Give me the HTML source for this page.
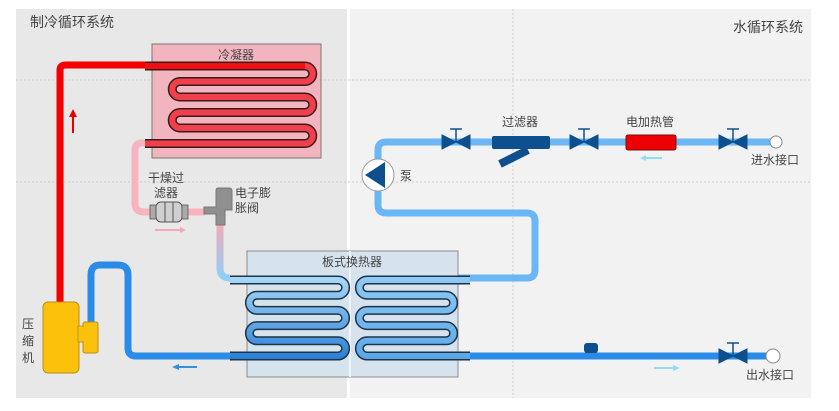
<!DOCTYPE html>
<html><head><meta charset="utf-8"><style>
body{margin:0;background:#fff;}
svg{display:block;}
text{font-family:"Liberation Sans","Noto Sans CJK SC",sans-serif;fill:#444;}
</style></head><body>
<svg width="839" height="411" viewBox="0 0 839 411" xmlns="http://www.w3.org/2000/svg">
<defs>
<linearGradient id="g1" x1="0" y1="0" x2="0" y2="1"><stop offset="0" stop-color="#f7a8b8"/><stop offset="1" stop-color="#8fd0f5"/></linearGradient>
<linearGradient id="gl" gradientUnits="userSpaceOnUse" x1="0" y1="278" x2="0" y2="358"><stop offset="0" stop-color="#a8d8f8"/><stop offset="1" stop-color="#2b80d8"/></linearGradient>
<linearGradient id="gr" gradientUnits="userSpaceOnUse" x1="0" y1="278" x2="0" y2="358"><stop offset="0" stop-color="#8ecaf5"/><stop offset="1" stop-color="#5aa8ea"/></linearGradient>
</defs>
<rect x="16" y="9" width="331" height="389" fill="#e8e8e8"/>
<rect x="350" y="9" width="461" height="389" fill="#f2f2f2"/>
<g stroke="#ccc" stroke-dasharray="2,2" stroke-width="1">
<line x1="16" y1="80" x2="811" y2="80"/><line x1="16" y1="182" x2="811" y2="182"/><line x1="513" y1="9" x2="513" y2="398"/>
</g>
<text x="30" y="27" font-size="14">制冷循环系统</text>
<text x="803" y="32" font-size="14" text-anchor="end">水循环系统</text>

<!-- condenser -->
<rect x="152" y="44" width="169" height="114" fill="#f2b5bf" stroke="#777" stroke-width="1"/>
<text x="236" y="59" font-size="12" text-anchor="middle" fill="#666">冷凝器</text>
<path d="M60,305 V70 Q60,65 66,65 H145" fill="none" stroke="#f40000" stroke-width="7"/>
<path d="M145,66 H305 a7.7,7.7 0 0 1 0,15.5 H180 a7.7,7.7 0 0 0 0,15.5 H305 a7.7,7.7 0 0 1 0,15.5 H180 a7.7,7.7 0 0 0 0,15.5 H305 a7.7,7.7 0 0 1 0,15.5 H145" fill="none" stroke="#3a1a1a" stroke-width="9"/>
<path d="M145,66 H305 a7.7,7.7 0 0 1 0,15.5 H180 a7.7,7.7 0 0 0 0,15.5 H305 a7.7,7.7 0 0 1 0,15.5 H180 a7.7,7.7 0 0 0 0,15.5 H305 a7.7,7.7 0 0 1 0,15.5 H145" fill="none" stroke="#f0404c" stroke-width="6"/>
<path d="M145,66 H305" stroke="#ee1010" stroke-width="6"/>
<path d="M73,133 V115" stroke="#e00" stroke-width="2"/><path d="M69,117 L73,109 L77,117 Z" fill="#e00"/>

<!-- pink line -->
<path d="M145,143 H142 Q135,143 135,150 V203 Q135,212 144,212 H205" fill="none" stroke="#f7b3c0" stroke-width="7"/>
<path d="M220,222 V268 Q220,278 230,278" fill="none" stroke="url(#g1)" stroke-width="7"/>
<!-- filter -->
<rect x="150" y="205" width="6" height="14" fill="#aaa" stroke="#555" stroke-width="0.8"/>
<rect x="156" y="202" width="26" height="20" rx="5" fill="#cfcfcf" stroke="#555" stroke-width="1"/>
<line x1="165" y1="202" x2="165" y2="222" stroke="#555"/><line x1="173" y1="202" x2="173" y2="222" stroke="#555"/>
<rect x="182" y="205" width="6" height="14" fill="#aaa" stroke="#555" stroke-width="0.8"/>
<text x="166" y="182" font-size="12" text-anchor="middle">干燥过</text>
<text x="166" y="197" font-size="12" text-anchor="middle">滤器</text>
<path d="M155,230 H181" stroke="#f7a8b8" stroke-width="2"/><path d="M180,227 L186,230 L180,233Z" fill="#f7a8b8"/>
<!-- exp valve -->
<path d="M218,188 H229 Q232,188 232,191 V210 H225 V225 H216 V214 H204 V207 H216 V191 Q216,188 218,188 Z" fill="#8f8f8f" stroke="#777"/>
<text x="235" y="197" font-size="12">电子膨</text>
<text x="235" y="212" font-size="12">胀阀</text>

<!-- compressor -->
<path d="M230,356 H136 Q128,356 128,348 V275 Q128,265 118,265 H100 Q91,265 91,275 V322" fill="none" stroke="#2b8ce8" stroke-width="7"/>
<rect x="43" y="302" width="36" height="71" rx="5" fill="#fbc10b" stroke="#b8901a"/>
<rect x="78" y="326" width="6" height="16" fill="#fbc10b" stroke="#b8901a" stroke-width="0.8"/>
<rect x="83" y="322" width="15" height="31" rx="2" fill="#fbc10b" stroke="#b8901a"/>
<rect x="78.5" y="327" width="6" height="14" fill="#fbc10b"/>
<text x="28" y="328" font-size="12" text-anchor="middle">压</text>
<text x="28" y="345" font-size="12" text-anchor="middle">缩</text>
<text x="28" y="362" font-size="12" text-anchor="middle">机</text>
<path d="M178,367 H197" stroke="#3a8ee0" stroke-width="2"/><path d="M179,364 L172,367 L179,370Z" fill="#3a8ee0"/>

<!-- water pipes -->
<path d="M458,278 H527 Q535,278 535,270 V221 Q535,213 527,213 H386 Q378,213 378,205 V150 Q378,142 386,142 H772" fill="none" stroke="#6bb6f5" stroke-width="7"/>
<path d="M458,356 H772" stroke="#2b8ce8" stroke-width="7"/>

<!-- plate HX -->
<rect x="247" y="251" width="211" height="126" fill="#d5e3ee" stroke="#888" opacity="0.95"/>
<line x1="350" y1="251" x2="350" y2="377" stroke="#eef4f8" stroke-width="2"/>
<text x="352" y="266" font-size="12" text-anchor="middle" fill="#555">板式换热器</text>
<g fill="none">
<path d="M230,280 H338 a7.6,7.6 0 0 1 0,15.2 H257 a7.6,7.6 0 0 0 0,15.2 H338 a7.6,7.6 0 0 1 0,15.2 H257 a7.6,7.6 0 0 0 0,15.2 H338 a7.6,7.6 0 0 1 0,15.2 H230" stroke="#1e3346" stroke-width="9"/>
<path d="M230,280 H338 a7.6,7.6 0 0 1 0,15.2 H257 a7.6,7.6 0 0 0 0,15.2 H338 a7.6,7.6 0 0 1 0,15.2 H257 a7.6,7.6 0 0 0 0,15.2 H338 a7.6,7.6 0 0 1 0,15.2 H230" stroke="url(#gl)" stroke-width="6"/>
<path d="M470,280 H367 a7.6,7.6 0 0 0 0,15.2 H446 a7.6,7.6 0 0 1 0,15.2 H367 a7.6,7.6 0 0 0 0,15.2 H446 a7.6,7.6 0 0 1 0,15.2 H367 a7.6,7.6 0 0 0 0,15.2 H470" stroke="#1e3346" stroke-width="9"/>
<path d="M470,280 H367 a7.6,7.6 0 0 0 0,15.2 H446 a7.6,7.6 0 0 1 0,15.2 H367 a7.6,7.6 0 0 0 0,15.2 H446 a7.6,7.6 0 0 1 0,15.2 H367 a7.6,7.6 0 0 0 0,15.2 H470" stroke="url(#gr)" stroke-width="6"/>
</g>

<!-- pump -->
<circle cx="378" cy="175" r="16" fill="#fff" stroke="#999"/>
<path d="M365,175 L385,162 L385,188Z" fill="#0e4f8e"/>
<text x="400" y="180" font-size="12">泵</text>

<!-- valves -->
<g fill="#0e4f8e" stroke="#0e4f8e">
<path d="M442,135 L456,142 L442,149Z M470,135 L456,142 L470,149Z"/><path d="M456,142 V129 M450,129 H462" stroke-width="1.5" fill="none"/>
<path d="M570,135 L584,142 L570,149Z M598,135 L584,142 L598,149Z"/><path d="M584,142 V129 M578,129 H590" stroke-width="1.5" fill="none"/>
<path d="M719,135 L733,142 L719,149Z M747,135 L733,142 L747,149Z"/><path d="M733,142 V129 M727,129 H739" stroke-width="1.5" fill="none"/>
<path d="M719,349 L733,356 L719,363Z M747,349 L733,356 L747,363Z"/><path d="M733,356 V343 M727,343 H739" stroke-width="1.5" fill="none"/>
</g>
<!-- strainer -->
<rect x="492" y="136" width="58" height="13" rx="2" fill="#0e4f8e"/>
<path d="M500,164 L528,150" stroke="#0e4f8e" stroke-width="8"/>
<text x="520" y="126" font-size="12" text-anchor="middle">过滤器</text>
<!-- heater -->
<rect x="626" y="135" width="50" height="15" rx="2" fill="#ee0000" stroke="#7a1010"/>
<text x="650" y="126" font-size="12" text-anchor="middle">电加热管</text>
<path d="M645,158 H662" stroke="#8ee0f0" stroke-width="2"/><path d="M646,155 L640,158 L646,161Z" fill="#8ee0f0"/>
<circle cx="776" cy="142" r="6" fill="#fff" stroke="#888"/>
<text x="775" y="164" font-size="12" text-anchor="middle">进水接口</text>
<!-- bottom -->
<rect x="584" y="343" width="14" height="10" rx="3" fill="#0e4f8e"/>
<path d="M654,368 H674" stroke="#8ee0f0" stroke-width="2"/><path d="M673,365 L680,368 L673,371Z" fill="#8ee0f0"/>
<circle cx="773" cy="356" r="7" fill="#fff" stroke="#888"/>
<text x="770" y="379" font-size="12" text-anchor="middle">出水接口</text>
</svg>
</body></html>
